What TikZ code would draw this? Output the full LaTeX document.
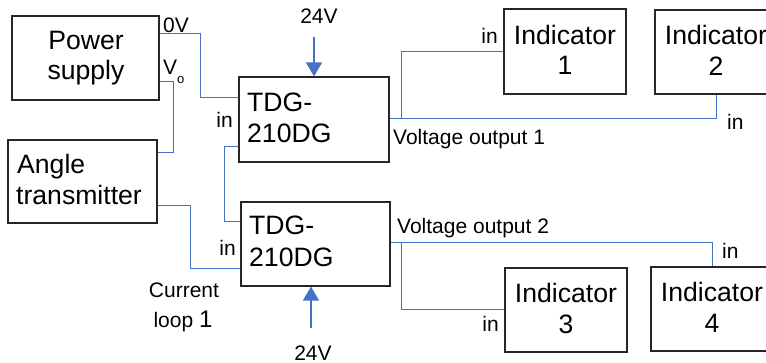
\documentclass[tikz,border=0pt]{standalone}
\usepackage{fontspec}
\setmainfont{Liberation Sans}
\usetikzlibrary{arrows.meta}
\definecolor{wireblue}{HTML}{4472C4}
\definecolor{boxline}{HTML}{262626}
\begin{document}
\begin{tikzpicture}[x=1pt,y=-1pt,
  box/.style={draw=boxline,line width=1.2pt,inner sep=0pt},
  big/.style={font=\fontsize{26.6}{31}\selectfont,inner sep=0pt,text=black},
  small/.style={font=\fontsize{21}{24}\selectfont,inner sep=0pt,text=black},
  wire/.style={draw=wireblue,line width=1pt},
  pwr/.style={draw=wireblue,line width=1.4pt,-{Triangle[width=16pt,length=14pt,fill=wireblue]}}
]
\useasboundingbox (0,0) rectangle (766,363);

% boxes
\node[box,minimum width=147pt,minimum height=84pt] (ps) at (85.5,58) {};
\node[box,minimum width=149pt,minimum height=83pt] (at) at (82.5,181.5) {};
\node[box,minimum width=150pt,minimum height=85pt] (t1) at (314,119.5) {};
\node[box,minimum width=149pt,minimum height=84pt] (t2) at (315.5,244) {};
\node[box,minimum width=122pt,minimum height=85pt] (i1) at (565,51.5) {};
\node[box,minimum width=122pt,minimum height=84pt] (i2) at (716,52) {};
\node[box,minimum width=122pt,minimum height=84pt] (i3) at (566,310) {};
\node[box,minimum width=122pt,minimum height=84pt] (i4) at (712,309) {};

% box texts
\node[big,anchor=base] (psa) at (86,50) {Power};
\node[big,anchor=base] (psb) at (86,80) {supply};
\node[big,anchor=base west] (ata) at (17,174) {Angle};
\node[big,anchor=base west] (atb) at (16,205) {transmitter};
\node[big,anchor=base west] (t1a) at (247,112) {TDG-};
\node[big,anchor=base west] (t1b) at (247,143) {210DG};
\node[big,anchor=base west] (t2a) at (249,235) {TDG-};
\node[big,anchor=base west] (t2b) at (249,267) {210DG};
\node[big,anchor=base] (i1a) at (565,45) {Indicator};
\node[big,anchor=base] (i1b) at (565,75) {1};
\node[big,anchor=base] (i2a) at (716,45) {Indicator};
\node[big,anchor=base] (i2b) at (716,76) {2};
\node[big,anchor=base] (i3a) at (566,303) {Indicator};
\node[big,anchor=base] (i3b) at (566,334) {3};
\node[big,anchor=base] (i4a) at (712,302) {Indicator};
\node[big,anchor=base] (i4b) at (712,333) {4};

% wires
\draw[wire] (ps.east |- 0,34) -| (200,98) -- (t1.west |- 0,98);
\draw[wire] (ps.east |- 0,82) -| (173,153) -- (at.east |- 0,153);
\draw[wire] (t1.west |- 0,147) -| (224,222) -- (t2.west |- 0,222);
\draw[wire] (at.east |- 0,206) -| (190,269) -- (t2.west |- 0,269);
\draw[wire] (t1.east |- 0,119) -| (i2.south);
\draw[wire] (401,119) |- (i1.west);
\draw[wire] (t2.east |- 0,243) -| (i4.north);
\draw[wire] (401,243) |- (i3.west);

% power arrows
\draw[pwr] (t1.north |- 0,37) -- (t1.north);
\draw[pwr] (311,328) -- (t2.south -| 311,0);

% small labels
\node[small,anchor=base west] (l0v) at (163,33) {0V};
\node[small,anchor=base west] (lvo) at (163,75) {V\raisebox{-0.4em}{\fontsize{13}{13}\selectfont o}};
\node[small,anchor=base east] (lin1) at (233,128) {in};
\node[small,anchor=base east] (lin2) at (236,256) {in};
\node[small,anchor=base east] (lin3) at (498,44) {in};
\node[small,anchor=base west] (lin4) at (727,130) {in};
\node[small,anchor=base west] (lin5) at (722,259) {in};
\node[small,anchor=base east] (lin6) at (499,332) {in};
\node[small,anchor=base west] (lvo1) at (393,145) {Voltage output 1};
\node[small,anchor=base west] (lvo2) at (397,234) {Voltage output 2};
\node[small,anchor=base] (l24a) at (319,24) {24V};
\node[small,anchor=base] (l24b) at (313,360) {24V};
\node[small,anchor=base] (lcur) at (184,298) {Current};
\node[small,anchor=base] (lloop) at (183,328) {loop {\fontsize{24}{24}\selectfont 1}};
\end{tikzpicture}
\end{document}
